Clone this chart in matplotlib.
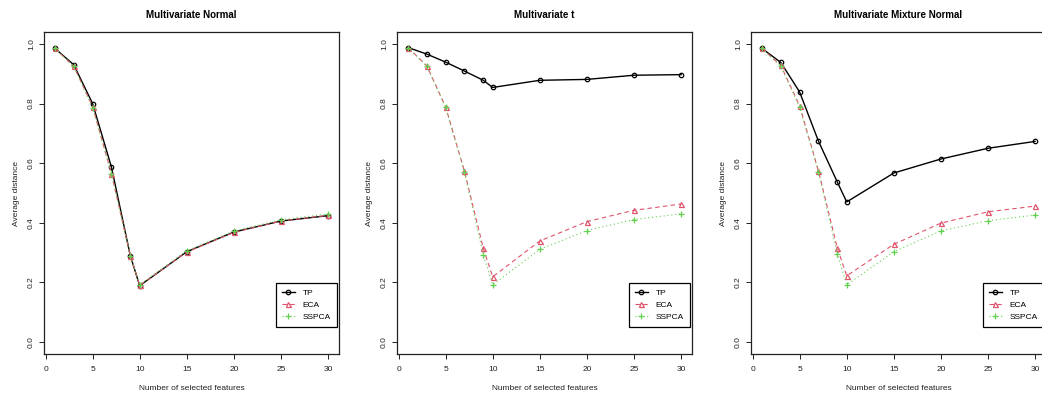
import numpy as np
import matplotlib
matplotlib.use("Agg")
import matplotlib.pyplot as plt

plt.rcParams['font.family'] = ['Liberation Sans', 'DejaVu Sans']

# data
n_features = [1, 3, 5, 7, 9, 10, 15, 20, 25, 30]
titles = ["Multivariate Normal", "Multivariate t", "Multivariate Mixture Normal"]
methods = ["TP", "ECA", "SSPCA"]

normal_tp = [0.985, 0.930, 0.800, 0.587, 0.290, 0.189, 0.303, 0.369, 0.406, 0.424]
normal_eca = [0.985, 0.925, 0.790, 0.565, 0.290, 0.190, 0.302, 0.368, 0.406, 0.425]
normal_sspca = [0.985, 0.925, 0.785, 0.565, 0.290, 0.193, 0.306, 0.373, 0.410, 0.430]

t_tp = [0.988, 0.966, 0.939, 0.909, 0.878, 0.854, 0.878, 0.881, 0.895, 0.897]
t_eca = [0.988, 0.927, 0.789, 0.573, 0.315, 0.219, 0.339, 0.404, 0.442, 0.463]
t_sspca = [0.988, 0.925, 0.787, 0.570, 0.293, 0.192, 0.311, 0.374, 0.411, 0.430]

mix_tp = [0.985, 0.938, 0.839, 0.674, 0.537, 0.470, 0.567, 0.614, 0.650, 0.673]
mix_eca = [0.985, 0.928, 0.793, 0.574, 0.316, 0.222, 0.328, 0.399, 0.437, 0.456]
mix_sspca = [0.985, 0.925, 0.787, 0.572, 0.296, 0.192, 0.303, 0.373, 0.407, 0.426]

panels = [
    [normal_tp, normal_eca, normal_sspca],
    [t_tp, t_eca, t_sspca],
    [mix_tp, mix_eca, mix_sspca],
]

# R-like styling
colors = ["black", "#DF536B", "#61D04F"]
markers = ["o", "^", "+"]
msizes = [3.2, 3.6, 5]
styles = ["-", (0, (4, 3)), (0, (1, 2.5))]

W, H = 1042, 396
fig = plt.figure(figsize=(W / 100, H / 100), dpi=100)

lefts = [44, 397, 751]
for i, left in enumerate(lefts):
    ax = fig.add_axes([left / W, 42 / H, 295 / W, 322 / H])
    for k in range(3):
        ax.plot(n_features, panels[i][k], color=colors[k], linestyle=styles[k],
                linewidth=1.0 if k == 0 else 0.8,
                marker=markers[k], markersize=msizes[k],
                markerfacecolor='none', markeredgecolor=colors[k],
                markeredgewidth=0.9, label=methods[k])
    ax.set_xlim(-0.16, 31.16)
    ax.set_ylim(-0.04, 1.04)
    ax.set_xticks([0, 5, 10, 15, 20, 25, 30])
    ax.set_yticks([0.0, 0.2, 0.4, 0.6, 0.8, 1.0])
    ax.set_yticklabels(["0.0", "0.2", "0.4", "0.6", "0.8", "1.0"], rotation=90, va='center')
    ax.tick_params(axis='both', direction='out', length=3.5, width=0.7,
                   labelsize=6, colors='#222222')
    ax.tick_params(axis='x', pad=5)
    ax.tick_params(axis='y', pad=3)
    for sp in ax.spines.values():
        sp.set_linewidth(0.9)
        sp.set_color('#222222')
    ax.set_title(titles[i], fontsize=7, fontweight='bold', pad=10)
    ax.set_xlabel("Number of selected features", fontsize=6, labelpad=9, color='#222222')
    ax.set_ylabel("Average distance", fontsize=6, labelpad=6, color='#222222')
    leg = ax.legend(loc='upper right', bbox_to_anchor=(0.993, 0.22),
                    fontsize=6, frameon=True, fancybox=False, edgecolor='black',
                    framealpha=1, handlelength=1.5, borderpad=0.7,
                    labelspacing=0.5, handletextpad=1.0, borderaxespad=0)
    leg.get_frame().set_linewidth(0.9)

fig.savefig("out.png", dpi=100)
